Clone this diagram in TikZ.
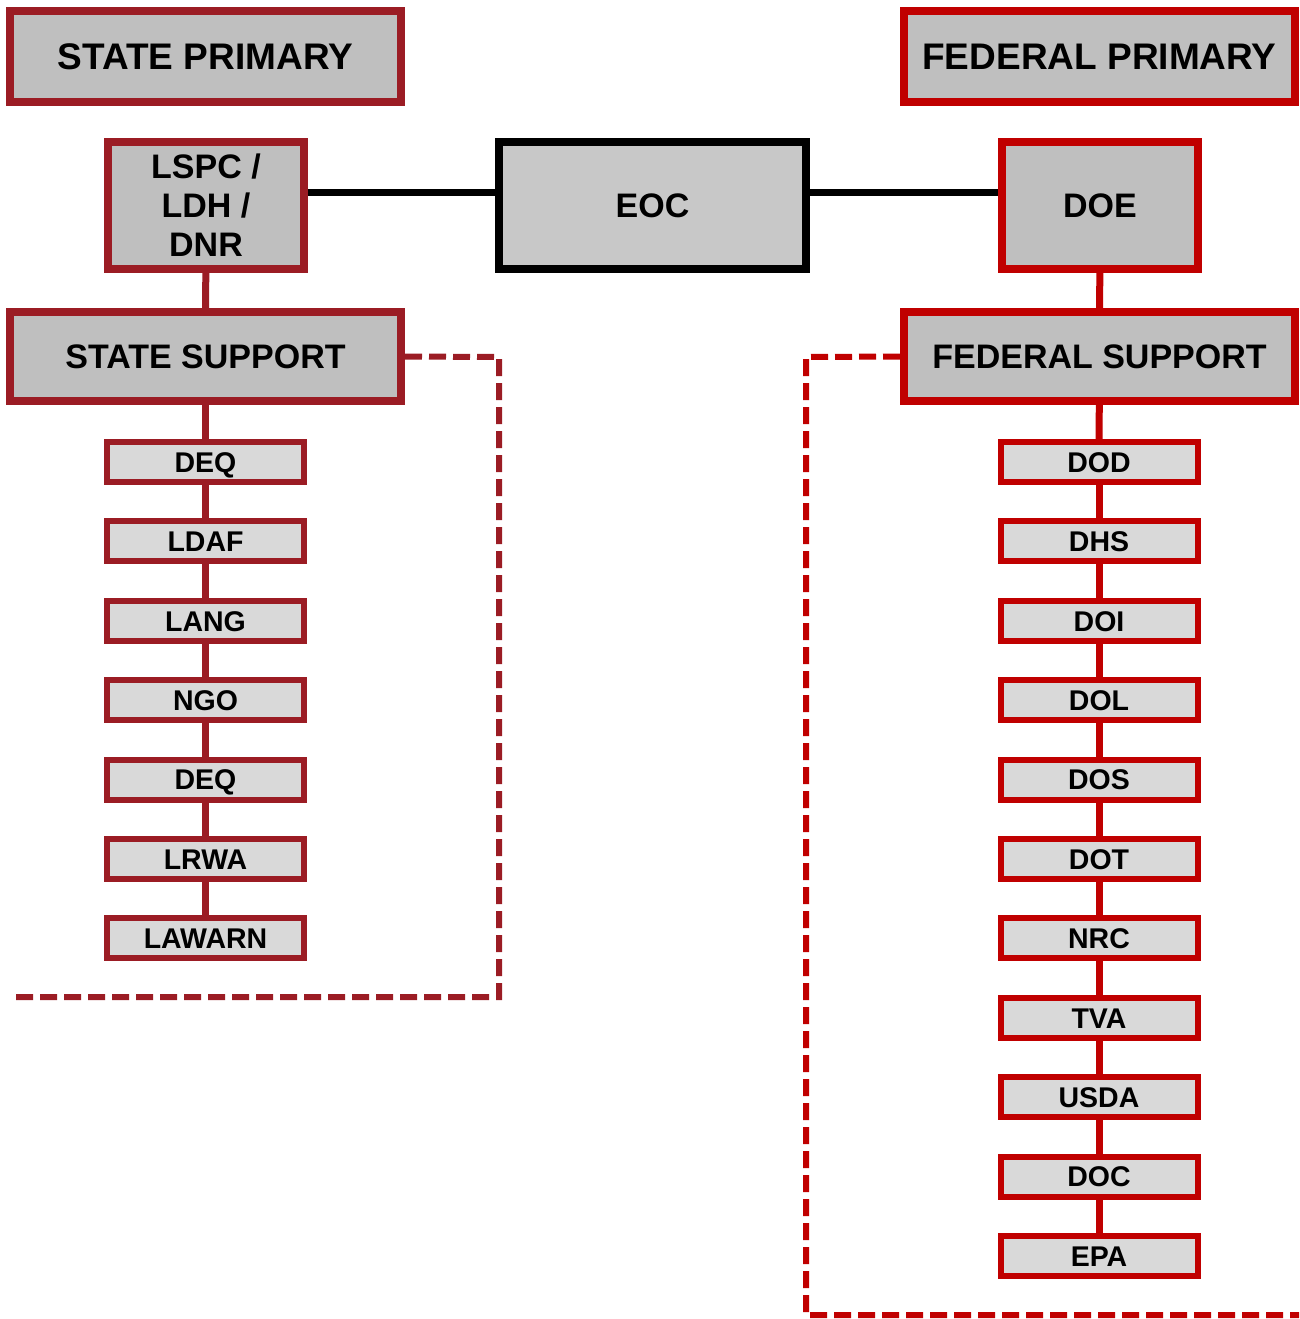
\documentclass[tikz,border=0pt]{standalone}
\usepackage{fontspec}
\setmainfont{Liberation Sans}
\usetikzlibrary{positioning}

\definecolor{statered}{HTML}{9B1C24}
\definecolor{fedred}{HTML}{C00000}
\definecolor{boxgray}{HTML}{BFBFBF}
\definecolor{eocgray}{HTML}{C8C8C8}
\definecolor{lightgray}{HTML}{D9D9D9}

\begin{document}
\begin{tikzpicture}[x=1pt,y=-1pt,node distance=79.4pt,
    big node/.style={rectangle,draw,line width=8pt,fill=boxgray,align=center,font=\bfseries\fontsize{37}{39}\selectfont,minimum width=391pt,minimum height=91pt,inner sep=0pt},
    mid node/.style={rectangle,draw,line width=8pt,fill=boxgray,align=center,font=\bfseries\fontsize{34}{39}\selectfont,minimum width=196pt,minimum height=127pt,inner sep=0pt},
    small node/.style={rectangle,draw,line width=6pt,fill=lightgray,font=\bfseries\fontsize{28.5}{30}\selectfont,minimum width=197pt,minimum height=40pt,inner sep=0pt,text height=20.5pt,text depth=0pt},
    link/.style={line width=7pt},
    dash line/.style={line width=6pt,dash pattern=on 17pt off 7pt}]

            \useasboundingbox (0,0) rectangle (1299,1319);

            % top row
            \node[big node, draw=statered] (1) at (205.5,57) {STATE PRIMARY};
            \node[big node, draw=fedred] (2) at (1099.5,57) {FEDERAL PRIMARY};
            \node[mid node, draw=statered] (3) at (206,205.5) {LSPC /\\LDH /\\DNR};
            \node[mid node, draw=black, fill=eocgray, minimum width=307pt] (4) at (652.5,205.5) {EOC};
            \node[mid node, draw=fedred] (5) at (1100,205.5) {DOE};
            \node[big node, draw=statered, minimum height=89pt, font=\bfseries\fontsize{34}{36}\selectfont] (6) at (205.5,356.5) {STATE SUPPORT};
            \node[big node, draw=fedred, minimum height=89pt, font=\bfseries\fontsize{34}{36}\selectfont] (7) at (1099.5,356.5) {FEDERAL SUPPORT};

            % state support agencies
            \node[small node, draw=statered] (11) at (205.5,462) {DEQ};
            \node[small node, draw=statered] (12) [below of = 11] {LDAF};
            \node[small node, draw=statered] (13) [below of = 12] {LANG};
            \node[small node, draw=statered] (14) [below of = 13] {NGO};
            \node[small node, draw=statered] (15) [below of = 14] {DEQ};
            \node[small node, draw=statered] (16) [below of = 15] {LRWA};
            \node[small node, draw=statered] (17) [below of = 16] {LAWARN};

            % federal support agencies
            \node[small node, draw=fedred] (21) at (1099,462) {DOD};
            \node[small node, draw=fedred] (22) [below of = 21] {DHS};
            \node[small node, draw=fedred] (23) [below of = 22] {DOI};
            \node[small node, draw=fedred] (24) [below of = 23] {DOL};
            \node[small node, draw=fedred] (25) [below of = 24] {DOS};
            \node[small node, draw=fedred] (26) [below of = 25] {DOT};
            \node[small node, draw=fedred] (27) [below of = 26] {NRC};
            \node[small node, draw=fedred] (28) [below of = 27] {TVA};
            \node[small node, draw=fedred] (29) [below of = 28] {USDA};
            \node[small node, draw=fedred] (30) [below of = 29] {DOC};
            \node[small node, draw=fedred] (31) [below of = 30] {EPA};

            \coordinate (40) at (499,357);
            \coordinate (41) at (499,997);
            \coordinate (42) at (10,997);
            \coordinate (43) at (806,357);
            \coordinate (44) at (806,1315);
            \coordinate (45) at (1299,1315);

            \draw[link, black] ([yshift=13.5pt]3.east) -- ([yshift=13.5pt]4.west);
            \draw[link, black] ([yshift=13.5pt]4.east) -- ([yshift=13.5pt]5.west);

            \path[link, draw=statered]
                (3) edge (6)
                (6) edge (11)
                (11) edge (12)
                (12) edge (13)
                (13) edge (14)
                (14) edge (15)
                (15) edge (16)
                (16) edge (17)
            ;
            \path[link, draw=fedred]
                (5) edge (7)
                (7) edge (21)
                (21) edge (22)
                (22) edge (23)
                (23) edge (24)
                (24) edge (25)
                (25) edge (26)
                (26) edge (27)
                (27) edge (28)
                (28) edge (29)
                (29) edge (30)
                (30) edge (31)
            ;

            \draw[dash line, statered] (6.east) -- (40) -- (41) -- (42);
            \draw[dash line, fedred] (7.west) -- (43) -- (44) -- (45);
        \end{tikzpicture}
\end{document}
